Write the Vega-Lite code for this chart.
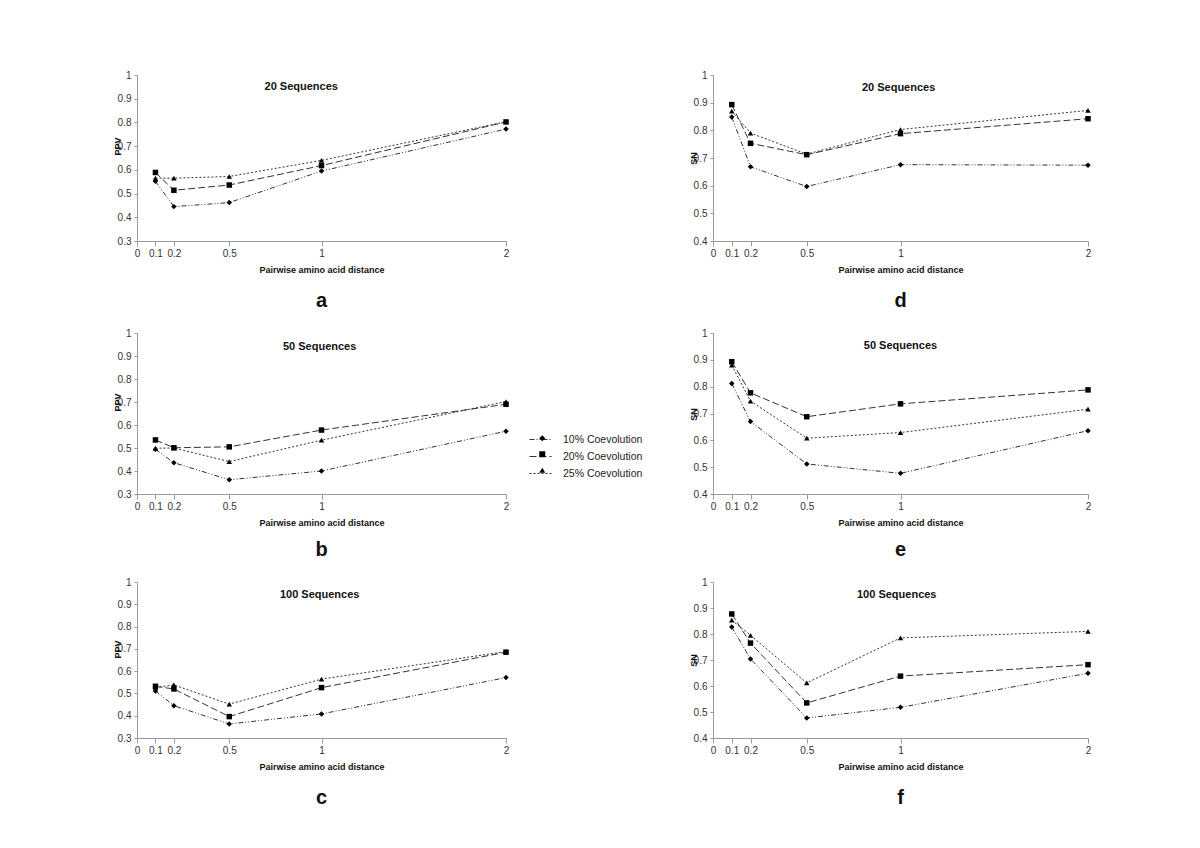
{
  "$schema": "https://vega.github.io/schema/vega-lite/v6.json",
  "background": "white",
  "padding": {"left": 113, "top": 70, "right": 0, "bottom": 0},
  "columns": 2,
  "spacing": {"column": 180, "row": 17},
  "datasets": {
    "pts": [
      {"panel": "a", "series": "10% Coevolution", "dist": 0.1, "value": 0.552},
      {"panel": "a", "series": "10% Coevolution", "dist": 0.2, "value": 0.445},
      {"panel": "a", "series": "10% Coevolution", "dist": 0.5, "value": 0.462},
      {"panel": "a", "series": "10% Coevolution", "dist": 1, "value": 0.595},
      {"panel": "a", "series": "10% Coevolution", "dist": 2, "value": 0.772},
      {"panel": "a", "series": "20% Coevolution", "dist": 0.1, "value": 0.589},
      {"panel": "a", "series": "20% Coevolution", "dist": 0.2, "value": 0.514},
      {"panel": "a", "series": "20% Coevolution", "dist": 0.5, "value": 0.536},
      {"panel": "a", "series": "20% Coevolution", "dist": 1, "value": 0.618},
      {"panel": "a", "series": "20% Coevolution", "dist": 2, "value": 0.802},
      {"panel": "a", "series": "25% Coevolution", "dist": 0.1, "value": 0.565},
      {"panel": "a", "series": "25% Coevolution", "dist": 0.2, "value": 0.565},
      {"panel": "a", "series": "25% Coevolution", "dist": 0.5, "value": 0.572},
      {"panel": "a", "series": "25% Coevolution", "dist": 1, "value": 0.640},
      {"panel": "a", "series": "25% Coevolution", "dist": 2, "value": 0.803},
      {"panel": "d", "series": "10% Coevolution", "dist": 0.1, "value": 0.848},
      {"panel": "d", "series": "10% Coevolution", "dist": 0.2, "value": 0.668},
      {"panel": "d", "series": "10% Coevolution", "dist": 0.5, "value": 0.597},
      {"panel": "d", "series": "10% Coevolution", "dist": 1, "value": 0.676},
      {"panel": "d", "series": "10% Coevolution", "dist": 2, "value": 0.674},
      {"panel": "d", "series": "20% Coevolution", "dist": 0.1, "value": 0.893},
      {"panel": "d", "series": "20% Coevolution", "dist": 0.2, "value": 0.753},
      {"panel": "d", "series": "20% Coevolution", "dist": 0.5, "value": 0.712},
      {"panel": "d", "series": "20% Coevolution", "dist": 1, "value": 0.788},
      {"panel": "d", "series": "20% Coevolution", "dist": 2, "value": 0.842},
      {"panel": "d", "series": "25% Coevolution", "dist": 0.1, "value": 0.869},
      {"panel": "d", "series": "25% Coevolution", "dist": 0.2, "value": 0.790},
      {"panel": "d", "series": "25% Coevolution", "dist": 0.5, "value": 0.714},
      {"panel": "d", "series": "25% Coevolution", "dist": 1, "value": 0.803},
      {"panel": "d", "series": "25% Coevolution", "dist": 2, "value": 0.872},
      {"panel": "b", "series": "10% Coevolution", "dist": 0.1, "value": 0.494},
      {"panel": "b", "series": "10% Coevolution", "dist": 0.2, "value": 0.436},
      {"panel": "b", "series": "10% Coevolution", "dist": 0.5, "value": 0.362},
      {"panel": "b", "series": "10% Coevolution", "dist": 1, "value": 0.400},
      {"panel": "b", "series": "10% Coevolution", "dist": 2, "value": 0.573},
      {"panel": "b", "series": "20% Coevolution", "dist": 0.1, "value": 0.535},
      {"panel": "b", "series": "20% Coevolution", "dist": 0.2, "value": 0.501},
      {"panel": "b", "series": "20% Coevolution", "dist": 0.5, "value": 0.505},
      {"panel": "b", "series": "20% Coevolution", "dist": 1, "value": 0.578},
      {"panel": "b", "series": "20% Coevolution", "dist": 2, "value": 0.690},
      {"panel": "b", "series": "25% Coevolution", "dist": 0.1, "value": 0.499},
      {"panel": "b", "series": "25% Coevolution", "dist": 0.2, "value": 0.500},
      {"panel": "b", "series": "25% Coevolution", "dist": 0.5, "value": 0.441},
      {"panel": "b", "series": "25% Coevolution", "dist": 1, "value": 0.534},
      {"panel": "b", "series": "25% Coevolution", "dist": 2, "value": 0.702},
      {"panel": "e", "series": "10% Coevolution", "dist": 0.1, "value": 0.812},
      {"panel": "e", "series": "10% Coevolution", "dist": 0.2, "value": 0.670},
      {"panel": "e", "series": "10% Coevolution", "dist": 0.5, "value": 0.512},
      {"panel": "e", "series": "10% Coevolution", "dist": 1, "value": 0.477},
      {"panel": "e", "series": "10% Coevolution", "dist": 2, "value": 0.636},
      {"panel": "e", "series": "20% Coevolution", "dist": 0.1, "value": 0.893},
      {"panel": "e", "series": "20% Coevolution", "dist": 0.2, "value": 0.777},
      {"panel": "e", "series": "20% Coevolution", "dist": 0.5, "value": 0.688},
      {"panel": "e", "series": "20% Coevolution", "dist": 1, "value": 0.736},
      {"panel": "e", "series": "20% Coevolution", "dist": 2, "value": 0.788},
      {"panel": "e", "series": "25% Coevolution", "dist": 0.1, "value": 0.880},
      {"panel": "e", "series": "25% Coevolution", "dist": 0.2, "value": 0.746},
      {"panel": "e", "series": "25% Coevolution", "dist": 0.5, "value": 0.608},
      {"panel": "e", "series": "25% Coevolution", "dist": 1, "value": 0.629},
      {"panel": "e", "series": "25% Coevolution", "dist": 2, "value": 0.716},
      {"panel": "c", "series": "10% Coevolution", "dist": 0.1, "value": 0.511},
      {"panel": "c", "series": "10% Coevolution", "dist": 0.2, "value": 0.445},
      {"panel": "c", "series": "10% Coevolution", "dist": 0.5, "value": 0.363},
      {"panel": "c", "series": "10% Coevolution", "dist": 1, "value": 0.408},
      {"panel": "c", "series": "10% Coevolution", "dist": 2, "value": 0.571},
      {"panel": "c", "series": "20% Coevolution", "dist": 0.1, "value": 0.532},
      {"panel": "c", "series": "20% Coevolution", "dist": 0.2, "value": 0.520},
      {"panel": "c", "series": "20% Coevolution", "dist": 0.5, "value": 0.396},
      {"panel": "c", "series": "20% Coevolution", "dist": 1, "value": 0.526},
      {"panel": "c", "series": "20% Coevolution", "dist": 2, "value": 0.685},
      {"panel": "c", "series": "25% Coevolution", "dist": 0.1, "value": 0.527},
      {"panel": "c", "series": "25% Coevolution", "dist": 0.2, "value": 0.538},
      {"panel": "c", "series": "25% Coevolution", "dist": 0.5, "value": 0.452},
      {"panel": "c", "series": "25% Coevolution", "dist": 1, "value": 0.564},
      {"panel": "c", "series": "25% Coevolution", "dist": 2, "value": 0.688},
      {"panel": "f", "series": "10% Coevolution", "dist": 0.1, "value": 0.827},
      {"panel": "f", "series": "10% Coevolution", "dist": 0.2, "value": 0.704},
      {"panel": "f", "series": "10% Coevolution", "dist": 0.5, "value": 0.477},
      {"panel": "f", "series": "10% Coevolution", "dist": 1, "value": 0.518},
      {"panel": "f", "series": "10% Coevolution", "dist": 2, "value": 0.649},
      {"panel": "f", "series": "20% Coevolution", "dist": 0.1, "value": 0.877},
      {"panel": "f", "series": "20% Coevolution", "dist": 0.2, "value": 0.765},
      {"panel": "f", "series": "20% Coevolution", "dist": 0.5, "value": 0.535},
      {"panel": "f", "series": "20% Coevolution", "dist": 1, "value": 0.638},
      {"panel": "f", "series": "20% Coevolution", "dist": 2, "value": 0.682},
      {"panel": "f", "series": "25% Coevolution", "dist": 0.1, "value": 0.853},
      {"panel": "f", "series": "25% Coevolution", "dist": 0.2, "value": 0.795},
      {"panel": "f", "series": "25% Coevolution", "dist": 0.5, "value": 0.612},
      {"panel": "f", "series": "25% Coevolution", "dist": 1, "value": 0.785},
      {"panel": "f", "series": "25% Coevolution", "dist": 2, "value": 0.810}
    ]
  },
  "resolve": {"scale": {"x": "independent", "y": "independent", "shape": "shared", "strokeDash": "shared"}, "legend": {"shape": "shared", "strokeDash": "shared"}},
  "concat": [
    {
      "width": 369, "height": 166,
      "title": {"text": "a", "offset": 17},
      "layer": [
        {"data": {"name": "pts"}, "transform": [{"filter": "datum.panel === 'a'"}],
         "mark": {"type": "line", "strokeWidth": 1, "color": "#333"},
         "encoding": {
           "x": {"field": "dist", "type": "quantitative", "title": "Pairwise  amino acid distance", "scale": {"domain": [0, 2], "nice": false, "zero": true}, "axis": {"values": [0, 0.1, 0.2, 0.5, 1, 2], "tickCount": 20, "labelOverlap": false}},
           "y": {"field": "value", "type": "quantitative", "title": "PPV", "scale": {"domain": [0.3, 1], "nice": false, "zero": false}, "axis": {"values": [0.3, 0.4, 0.5, 0.6, 0.7, 0.8, 0.9, 1], "tickCount": 20, "labelOverlap": false, "titleY": 71}},
           "strokeDash": {"field": "series", "type": "nominal", "title": null, "scale": {"range": [[5, 2, 1, 2, 1, 2], [7, 3], [2, 2]]},
             "legend": {"orient": "none", "legendX": 392, "legendY": 353, "symbolType": "stroke", "symbolSize": 484, "symbolStrokeWidth": 1, "symbolStrokeColor": "#333", "rowPadding": -1, "labelOffset": 11, "labelFont": "Liberation Sans", "labelFontSize": 10.5, "labelColor": "#222"}}
         }},
        {"data": {"name": "pts"}, "transform": [{"filter": "datum.panel === 'a'"}],
         "mark": {"type": "point", "filled": true, "color": "#000", "opacity": 1, "size": 30},
         "encoding": {
           "x": {"field": "dist", "type": "quantitative"},
           "y": {"field": "value", "type": "quantitative"},
           "shape": {"field": "series", "type": "nominal", "title": null, "scale": {"domain": ["10% Coevolution", "20% Coevolution", "25% Coevolution"], "range": ["diamond", "square", "triangle-up"]},
             "legend": {"orient": "none", "legendX": 400, "legendY": 358, "symbolSize": 36, "symbolFillColor": "#000", "symbolStrokeColor": "#000", "rowPadding": 3, "labelOffset": -140, "labelFont": "Liberation Sans", "labelFontSize": 10.5, "labelOpacity": 0}}
         }},
        {"data": {"values": [{"t": "20 Sequences"}]},
         "mark": {"type": "text", "fontSize": 11, "fontWeight": "bold", "font": "Liberation Sans", "color": "#111"},
         "encoding": {"x": {"datum": 0.89, "type": "quantitative"}, "y": {"datum": 0.95, "type": "quantitative"}, "text": {"field": "t"}}}
      ]
    },
    {
      "width": 375, "height": 166,
      "title": {"text": "d", "offset": 17},
      "layer": [
        {"data": {"name": "pts"}, "transform": [{"filter": "datum.panel === 'd'"}],
         "mark": {"type": "line", "strokeWidth": 1, "color": "#333"},
         "encoding": {
           "x": {"field": "dist", "type": "quantitative", "title": "Pairwise  amino acid distance", "scale": {"domain": [0, 2], "nice": false, "zero": true}, "axis": {"values": [0, 0.1, 0.2, 0.5, 1, 2], "tickCount": 20, "labelOverlap": false}},
           "y": {"field": "value", "type": "quantitative", "title": "SN", "scale": {"domain": [0.4, 1], "nice": false, "zero": false}, "axis": {"values": [0.4, 0.5, 0.6, 0.7, 0.8, 0.9, 1], "tickCount": 20, "labelOverlap": false, "titleY": 83}},
           "strokeDash": {"field": "series", "type": "nominal", "title": null}
         }},
        {"data": {"name": "pts"}, "transform": [{"filter": "datum.panel === 'd'"}],
         "mark": {"type": "point", "filled": true, "color": "#000", "opacity": 1, "size": 30},
         "encoding": {
           "x": {"field": "dist", "type": "quantitative"},
           "y": {"field": "value", "type": "quantitative"},
           "shape": {"field": "series", "type": "nominal", "title": null}
         }},
        {"data": {"values": [{"t": "20 Sequences"}]},
         "mark": {"type": "text", "fontSize": 11, "fontWeight": "bold", "font": "Liberation Sans", "color": "#111"},
         "encoding": {"x": {"datum": 0.99, "type": "quantitative"}, "y": {"datum": 0.953, "type": "quantitative"}, "text": {"field": "t"}}}
      ]
    },
    {
      "width": 369, "height": 161,
      "title": {"text": "b", "offset": 13},
      "layer": [
        {"data": {"name": "pts"}, "transform": [{"filter": "datum.panel === 'b'"}],
         "mark": {"type": "line", "strokeWidth": 1, "color": "#333"},
         "encoding": {
           "x": {"field": "dist", "type": "quantitative", "title": "Pairwise  amino acid distance", "scale": {"domain": [0, 2], "nice": false, "zero": true}, "axis": {"values": [0, 0.1, 0.2, 0.5, 1, 2], "tickCount": 20, "labelOverlap": false}},
           "y": {"field": "value", "type": "quantitative", "title": "PPV", "scale": {"domain": [0.3, 1], "nice": false, "zero": false}, "axis": {"values": [0.3, 0.4, 0.5, 0.6, 0.7, 0.8, 0.9, 1], "tickCount": 20, "labelOverlap": false, "titleY": 69}},
           "strokeDash": {"field": "series", "type": "nominal", "title": null}
         }},
        {"data": {"name": "pts"}, "transform": [{"filter": "datum.panel === 'b'"}],
         "mark": {"type": "point", "filled": true, "color": "#000", "opacity": 1, "size": 30},
         "encoding": {
           "x": {"field": "dist", "type": "quantitative"},
           "y": {"field": "value", "type": "quantitative"},
           "shape": {"field": "series", "type": "nominal", "title": null}
         }},
        {"data": {"values": [{"t": "50 Sequences"}]},
         "mark": {"type": "text", "fontSize": 11, "fontWeight": "bold", "font": "Liberation Sans", "color": "#111"},
         "encoding": {"x": {"datum": 0.99, "type": "quantitative"}, "y": {"datum": 0.94, "type": "quantitative"}, "text": {"field": "t"}}}
      ]
    },
    {
      "width": 375, "height": 161,
      "title": {"text": "e", "offset": 13},
      "layer": [
        {"data": {"name": "pts"}, "transform": [{"filter": "datum.panel === 'e'"}],
         "mark": {"type": "line", "strokeWidth": 1, "color": "#333"},
         "encoding": {
           "x": {"field": "dist", "type": "quantitative", "title": "Pairwise  amino acid distance", "scale": {"domain": [0, 2], "nice": false, "zero": true}, "axis": {"values": [0, 0.1, 0.2, 0.5, 1, 2], "tickCount": 20, "labelOverlap": false}},
           "y": {"field": "value", "type": "quantitative", "title": "SN", "scale": {"domain": [0.4, 1], "nice": false, "zero": false}, "axis": {"values": [0.4, 0.5, 0.6, 0.7, 0.8, 0.9, 1], "tickCount": 20, "labelOverlap": false, "titleY": 81}},
           "strokeDash": {"field": "series", "type": "nominal", "title": null}
         }},
        {"data": {"name": "pts"}, "transform": [{"filter": "datum.panel === 'e'"}],
         "mark": {"type": "point", "filled": true, "color": "#000", "opacity": 1, "size": 30},
         "encoding": {
           "x": {"field": "dist", "type": "quantitative"},
           "y": {"field": "value", "type": "quantitative"},
           "shape": {"field": "series", "type": "nominal", "title": null}
         }},
        {"data": {"values": [{"t": "50 Sequences"}]},
         "mark": {"type": "text", "fontSize": 11, "fontWeight": "bold", "font": "Liberation Sans", "color": "#111"},
         "encoding": {"x": {"datum": 1.0, "type": "quantitative"}, "y": {"datum": 0.952, "type": "quantitative"}, "text": {"field": "t"}}}
      ]
    },
    {
      "width": 369, "height": 156,
      "title": {"text": "c", "offset": 17},
      "layer": [
        {"data": {"name": "pts"}, "transform": [{"filter": "datum.panel === 'c'"}],
         "mark": {"type": "line", "strokeWidth": 1, "color": "#333"},
         "encoding": {
           "x": {"field": "dist", "type": "quantitative", "title": "Pairwise  amino acid distance", "scale": {"domain": [0, 2], "nice": false, "zero": true}, "axis": {"values": [0, 0.1, 0.2, 0.5, 1, 2], "tickCount": 20, "labelOverlap": false}},
           "y": {"field": "value", "type": "quantitative", "title": "PPV", "scale": {"domain": [0.3, 1], "nice": false, "zero": false}, "axis": {"values": [0.3, 0.4, 0.5, 0.6, 0.7, 0.8, 0.9, 1], "tickCount": 20, "labelOverlap": false, "titleY": 67}},
           "strokeDash": {"field": "series", "type": "nominal", "title": null}
         }},
        {"data": {"name": "pts"}, "transform": [{"filter": "datum.panel === 'c'"}],
         "mark": {"type": "point", "filled": true, "color": "#000", "opacity": 1, "size": 30},
         "encoding": {
           "x": {"field": "dist", "type": "quantitative"},
           "y": {"field": "value", "type": "quantitative"},
           "shape": {"field": "series", "type": "nominal", "title": null}
         }},
        {"data": {"values": [{"t": "100 Sequences"}]},
         "mark": {"type": "text", "fontSize": 11, "fontWeight": "bold", "font": "Liberation Sans", "color": "#111"},
         "encoding": {"x": {"datum": 0.99, "type": "quantitative"}, "y": {"datum": 0.942, "type": "quantitative"}, "text": {"field": "t"}}}
      ]
    },
    {
      "width": 375, "height": 156,
      "title": {"text": "f", "offset": 17},
      "layer": [
        {"data": {"name": "pts"}, "transform": [{"filter": "datum.panel === 'f'"}],
         "mark": {"type": "line", "strokeWidth": 1, "color": "#333"},
         "encoding": {
           "x": {"field": "dist", "type": "quantitative", "title": "Pairwise  amino acid distance", "scale": {"domain": [0, 2], "nice": false, "zero": true}, "axis": {"values": [0, 0.1, 0.2, 0.5, 1, 2], "tickCount": 20, "labelOverlap": false}},
           "y": {"field": "value", "type": "quantitative", "title": "SN", "scale": {"domain": [0.4, 1], "nice": false, "zero": false}, "axis": {"values": [0.4, 0.5, 0.6, 0.7, 0.8, 0.9, 1], "tickCount": 20, "labelOverlap": false, "titleY": 78}},
           "strokeDash": {"field": "series", "type": "nominal", "title": null}
         }},
        {"data": {"name": "pts"}, "transform": [{"filter": "datum.panel === 'f'"}],
         "mark": {"type": "point", "filled": true, "color": "#000", "opacity": 1, "size": 30},
         "encoding": {
           "x": {"field": "dist", "type": "quantitative"},
           "y": {"field": "value", "type": "quantitative"},
           "shape": {"field": "series", "type": "nominal", "title": null}
         }},
        {"data": {"values": [{"t": "100 Sequences"}]},
         "mark": {"type": "text", "fontSize": 11, "fontWeight": "bold", "font": "Liberation Sans", "color": "#111"},
         "encoding": {"x": {"datum": 0.98, "type": "quantitative"}, "y": {"datum": 0.95, "type": "quantitative"}, "text": {"field": "t"}}}
      ]
    }
  ],
  "config": {
    "view": {"stroke": null},
    "font": "Liberation Sans",
    "title": {"orient": "bottom", "anchor": "middle", "frame": "group", "fontSize": 20, "fontWeight": "bold", "font": "Liberation Sans", "color": "#111"},
    "axis": {"grid": false, "domainColor": "#999", "tickColor": "#999", "labelFont": "Liberation Sans", "labelFontSize": 10, "labelColor": "#333", "titleFont": "Liberation Sans", "titleFontSize": 9, "titleFontWeight": "bold", "titleColor": "#111", "labelFlush": false, "labelOverlap": false},
    "axisX": {"labelExpr": "datum.value === 0 ? '0' : format(datum.value, '~g')", "tickSize": 5, "labelPadding": 2, "titlePadding": 7},
    "axisY": {"format": ".1~f", "tickSize": 3, "labelPadding": 3, "titleX": -20, "titleAngle": 270, "titleAlign": "center", "titleBaseline": "middle", "labelOverlap": false}
  }
}
